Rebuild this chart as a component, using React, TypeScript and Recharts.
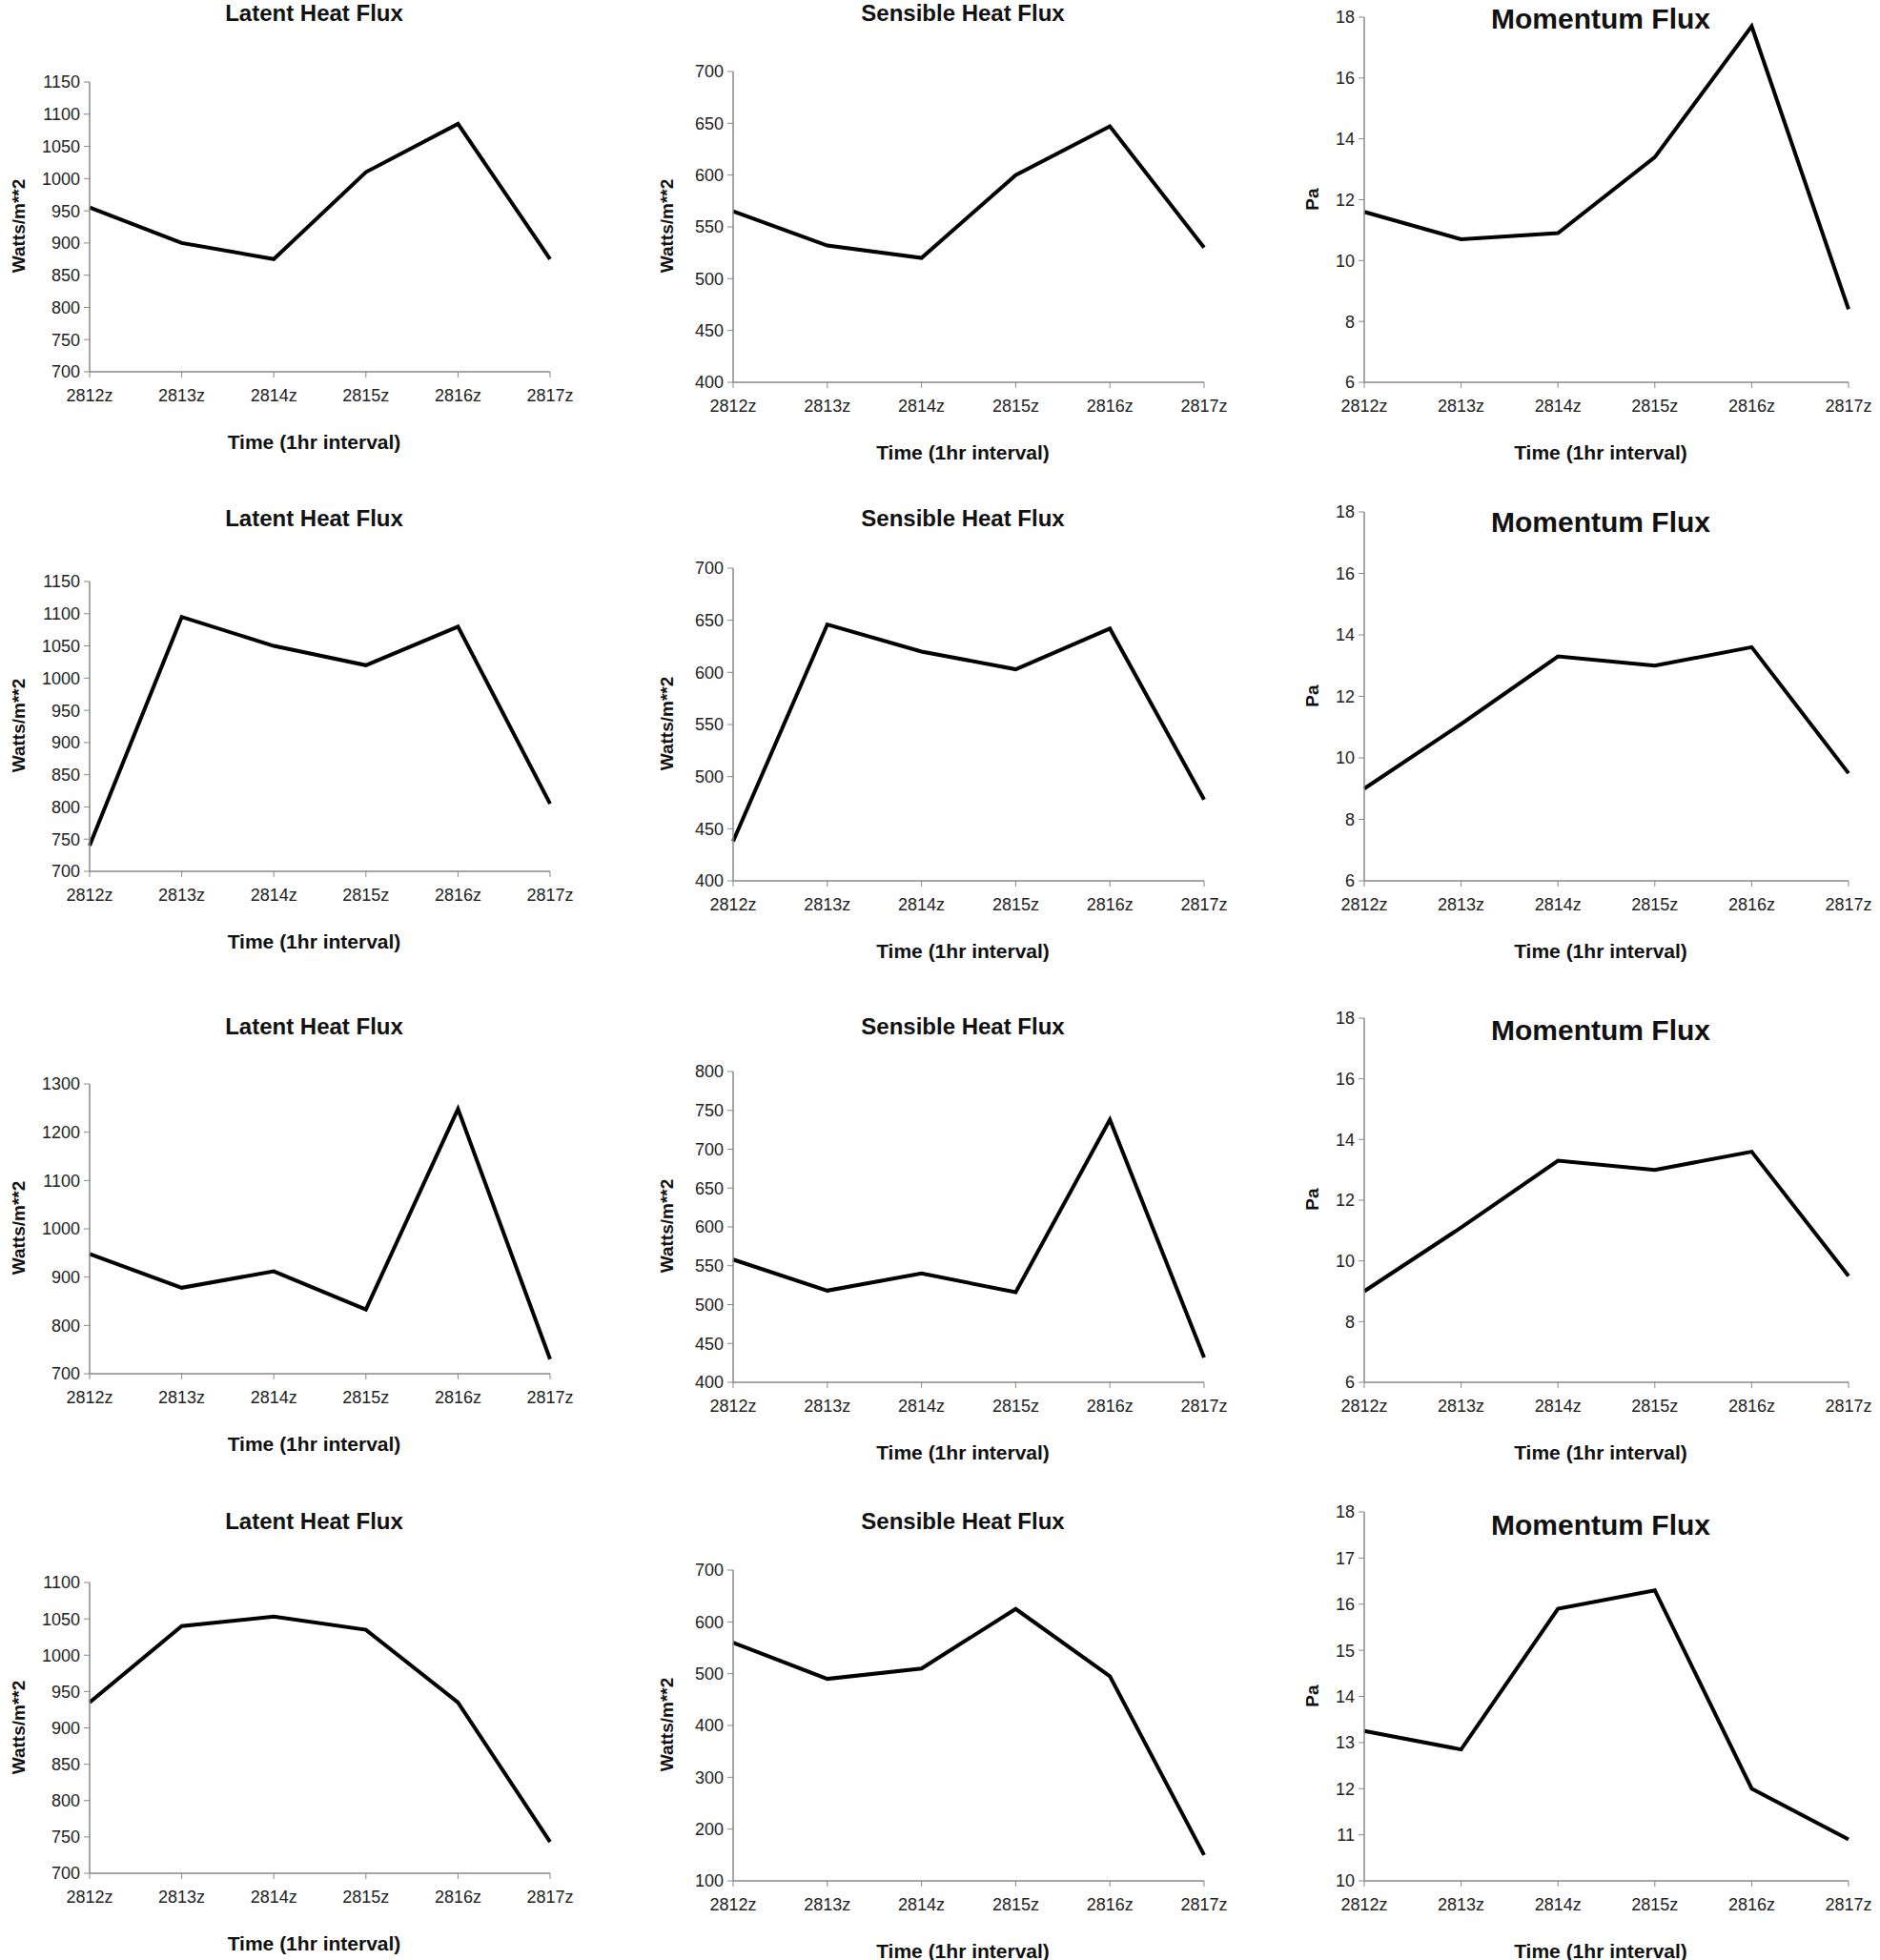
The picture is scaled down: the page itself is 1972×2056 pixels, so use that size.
import React from 'react';
import { LineChart, Line, XAxis, YAxis } from 'recharts';

const times = ['2812z', '2813z', '2814z', '2815z', '2816z', '2817z'];

const lhf1 = [955, 900, 875, 1010, 1085, 875];
const shf1 = [565, 532, 520, 600, 647, 530];
const mf1 = [11.6, 10.7, 10.9, 13.4, 17.7, 8.4];
const lhf2 = [740, 1095, 1050, 1020, 1080, 805];
const shf2 = [438, 646, 620, 603, 642, 478];
const mf2 = [9.0, 11.1, 13.3, 13.0, 13.6, 9.5];
const lhf3 = [948, 878, 912, 833, 1248, 730];
const shf3 = [558, 518, 540, 516, 738, 432];
const mf3 = [9.0, 11.1, 13.3, 13.0, 13.6, 9.5];
const lhf4 = [935, 1040, 1053, 1035, 935, 743];
const shf4 = [560, 490, 510, 625, 495, 150];
const mf4 = [13.25, 12.85, 15.9, 16.3, 12.0, 10.9];

const range = (a: number, b: number, s: number) => {
  const r: number[] = [];
  for (let v = a; v <= b + 1e-9; v += s) r.push(Math.round(v * 100) / 100);
  return r;
};

const FONT = '"Liberation Sans", Arial, sans-serif';

type P = {
  vals: number[]; title: string; ylabel: string; ticks: number[];
  l: number; r: number; t: number; b: number; titleY: number; ylx: number; big?: boolean;
};

const panels: P[] = [
  { vals: lhf1, title: 'Latent Heat Flux', ylabel: 'Watts/m**2', ticks: range(700, 1150, 50), l: 94, r: 577, t: 86, b: 390, titleY: 18, ylx: 10 },
  { vals: shf1, title: 'Sensible Heat Flux', ylabel: 'Watts/m**2', ticks: range(400, 700, 50), l: 769, r: 1263, t: 75, b: 401, titleY: 18, ylx: 690 },
  { vals: mf1, title: 'Momentum Flux', ylabel: 'Pa', ticks: range(6, 18, 2), l: 1431, r: 1939, t: 18, b: 401, titleY: 20, ylx: 1367, big: true },
  { vals: lhf2, title: 'Latent Heat Flux', ylabel: 'Watts/m**2', ticks: range(700, 1150, 50), l: 94, r: 577, t: 610, b: 914, titleY: 548, ylx: 10 },
  { vals: shf2, title: 'Sensible Heat Flux', ylabel: 'Watts/m**2', ticks: range(400, 700, 50), l: 769, r: 1263, t: 596, b: 924, titleY: 548, ylx: 690 },
  { vals: mf2, title: 'Momentum Flux', ylabel: 'Pa', ticks: range(6, 18, 2), l: 1431, r: 1939, t: 537, b: 924, titleY: 548, ylx: 1367, big: true },
  { vals: lhf3, title: 'Latent Heat Flux', ylabel: 'Watts/m**2', ticks: range(700, 1300, 100), l: 94, r: 577, t: 1137, b: 1441, titleY: 1081, ylx: 10 },
  { vals: shf3, title: 'Sensible Heat Flux', ylabel: 'Watts/m**2', ticks: range(400, 800, 50), l: 769, r: 1263, t: 1124, b: 1450, titleY: 1081, ylx: 690 },
  { vals: mf3, title: 'Momentum Flux', ylabel: 'Pa', ticks: range(6, 18, 2), l: 1431, r: 1939, t: 1068, b: 1450, titleY: 1081, ylx: 1367, big: true },
  { vals: lhf4, title: 'Latent Heat Flux', ylabel: 'Watts/m**2', ticks: range(700, 1100, 50), l: 94, r: 577, t: 1660, b: 1965, titleY: 1600, ylx: 10 },
  { vals: shf4, title: 'Sensible Heat Flux', ylabel: 'Watts/m**2', ticks: range(100, 700, 100), l: 769, r: 1263, t: 1647, b: 1973, titleY: 1600, ylx: 690 },
  { vals: mf4, title: 'Momentum Flux', ylabel: 'Pa', ticks: range(10, 18, 1), l: 1431, r: 1939, t: 1586, b: 1973, titleY: 1600, ylx: 1367, big: true },
];

const tickStyle = { fontSize: 18, fill: '#222', fontFamily: FONT };

function Panel({ p }: { p: P }) {
  const data = times.map((t, i) => ({ t, v: p.vals[i] }));
  const padL = 70, padT = 10, padR = 30, padB = 45;
  const w = p.r - p.l, h = p.b - p.t;
  const cx = (p.l + p.r) / 2 - 6;
  return (
    <>
      <div style={{ position: 'absolute', left: cx - 250, width: 500, top: Math.max(0, p.titleY - 17), lineHeight: 1.1, textAlign: 'center', fontFamily: FONT, fontWeight: 'bold', fontSize: p.big ? 30 : 24, color: '#111' }}>{p.title}</div>
      <div style={{ position: 'absolute', left: p.l - padL, top: p.t - padT }}>
        <LineChart width={w + padL + padR} height={h + padT + padB} data={data} margin={{ top: padT, right: padR, bottom: 0, left: 0 }}>
          <XAxis dataKey="t" height={padB} tick={tickStyle} tickLine={{ stroke: '#888' }} axisLine={{ stroke: '#888', strokeWidth: 1.5 }} interval={0} tickMargin={12} />
          <YAxis width={padL} domain={[p.ticks[0], p.ticks[p.ticks.length - 1]]} ticks={p.ticks} tick={tickStyle} tickLine={{ stroke: '#888' }} axisLine={{ stroke: '#888', strokeWidth: 1.5 }} interval={0} tickMargin={4} />
          <Line dataKey="v" stroke="#000" strokeWidth={4} dot={false} isAnimationActive={false} />
        </LineChart>
      </div>
      <div style={{ position: 'absolute', left: cx - 200, width: 400, top: p.b + 62, textAlign: 'center', fontFamily: FONT, fontWeight: 'bold', fontSize: 21, color: '#111' }}>Time (1hr interval)</div>
      <div style={{ position: 'absolute', left: p.ylx + 10 - 150, width: 300, top: (p.t + p.b) / 2 - 12, textAlign: 'center', transform: 'rotate(-90deg)', fontFamily: FONT, fontWeight: 'bold', fontSize: 19, color: '#111' }}>{p.ylabel}</div>
    </>
  );
}

export default function App() {
  return (
    <div style={{ position: 'absolute', left: 0, top: 0, width: 1972, height: 2056, background: '#fff', overflow: 'hidden' }}>
      {panels.map((p, i) => <Panel key={i} p={p} />)}
    </div>
  );
}
